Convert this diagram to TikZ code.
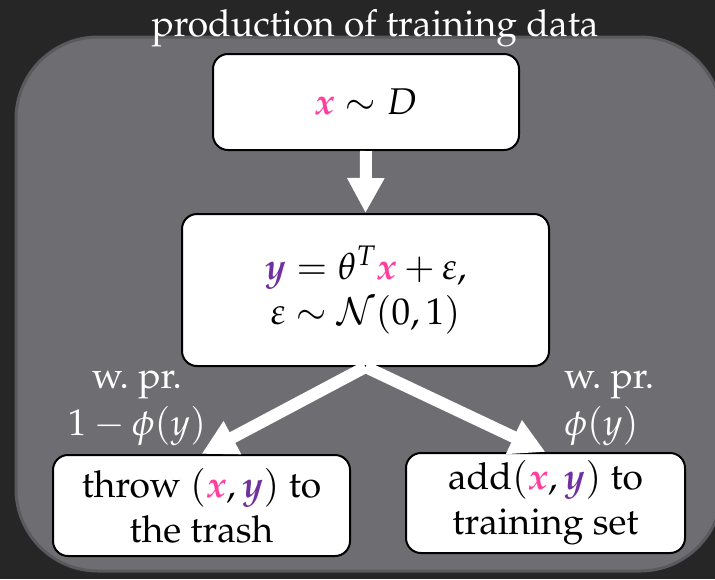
\documentclass[tikz,border=0pt]{standalone}
\usepackage[T1]{fontenc}
\usepackage{amsmath}
\usepackage{mathpazo}
\usepackage{bm}
\usetikzlibrary{arrows.meta}

\definecolor{bgdark}{HTML}{262626}
\definecolor{panelgrey}{HTML}{6E6D72}
\definecolor{paneledge}{HTML}{5A5A5E}
\definecolor{xpink}{HTML}{FF3F9F}
\definecolor{ypurple}{HTML}{7030A0}

\newcommand{\xv}{\textcolor{xpink}{\bm{x}}}
\newcommand{\yv}{\textcolor{ypurple}{\bm{y}}}

\begin{document}
\begin{tikzpicture}[x=0.5pt, y=-0.5pt,
  font=\fontsize{18.6}{22.5}\selectfont,
  box/.style={draw=black, line width=1pt, fill=white, rounded corners=7.5pt,
    align=center, inner sep=0pt},
  flow/.style={white, line width=6pt,
    -{Triangle[length=17.5pt, width=17.5pt]}},
  lbl/.style={text=white, inner sep=0pt}
]
\fill[bgdark] (0,0) rectangle (715,579);
\useasboundingbox (0,0) rectangle (715,579);

% grey panel, runs off the right edge
\begin{scope}
  \clip (0,0) rectangle (715,579);
  \draw[fill=panelgrey, draw=paneledge, line width=1.5pt, rounded corners=41pt]
    (16,37) rectangle (722,571);
\end{scope}

\node[text=white, anchor=base] (title) at (375,36) {production of training data};

\node[box, minimum width=153pt, minimum height=48pt] (src) at (366,102)
  {$\xv \sim D$};
\node[box, minimum width=183.5pt, minimum height=76pt] (model) at (365.5,290)
  {$\yv = \theta^T \xv + \varepsilon,$\\ $\varepsilon \sim \mathcal{N}(0,1)$};
\node[box, minimum width=148.5pt, minimum height=50.5pt] (trash) at (201.5,505.5)
  {throw $(\xv, \yv)$ to\\ the trash};
\node[box, minimum width=139.5pt, minimum height=50pt] (keep) at (545.5,503)
  {add$(\xv, \yv)$ to\\ training set};

\draw[flow] (src.south) -- (model.north);
\draw[flow] (model.south) -- (trash.north);
\draw[flow] (model.south) -- (keep.north);

% branch probabilities
\node[lbl, align=center] (pdrop) at (137,408) {w.\ pr.\\[1pt] $1-\phi(y)$};
\node[lbl, align=left, anchor=west] (pkeep) at (564,408) {w.\ pr.\\[1pt] $\phi(y)$};
\end{tikzpicture}
\end{document}
